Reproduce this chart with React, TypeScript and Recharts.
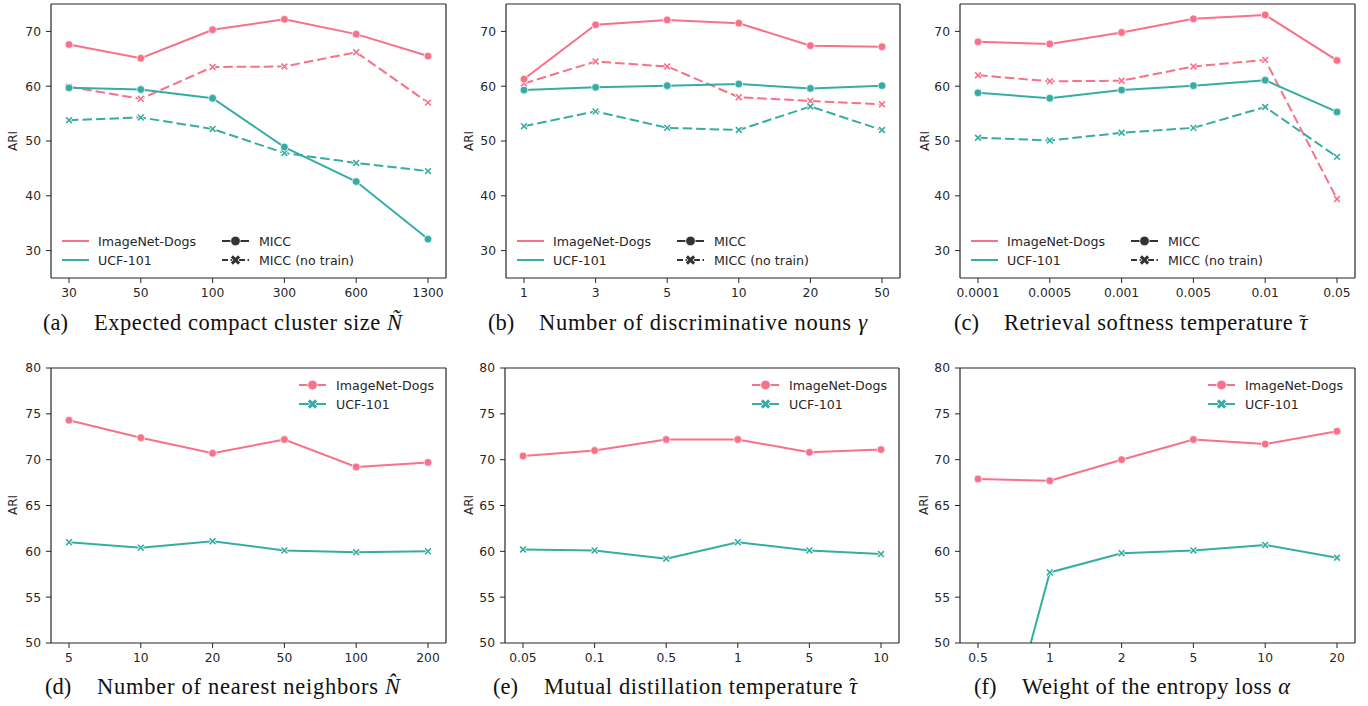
import React from 'react';
import { LineChart, Line, XAxis, YAxis, Legend } from 'recharts';

const PINK = '#f77189';
const TEAL = '#36ada4';
const DARK = '#333333';
const AXIS = '#262626';
const SANS = '"DejaVu Sans", sans-serif';
const SERIF = '"Liberation Serif", serif';

// (a) expected compact cluster size
const sizeTicks = ['30', '50', '100', '300', '600', '1300'];
const sizeDogs = [67.6, 65.1, 70.3, 72.2, 69.5, 65.5];
const sizeDogsNoTrain = [59.9, 57.7, 63.5, 63.6, 66.2, 57.0];
const sizeUcf = [59.7, 59.4, 57.8, 48.9, 42.6, 32.1];
const sizeUcfNoTrain = [53.8, 54.3, 52.2, 47.8, 46.0, 44.5];

// (b) number of discriminative nouns
const nounTicks = ['1', '3', '5', '10', '20', '50'];
const nounDogs = [61.3, 71.2, 72.1, 71.5, 67.4, 67.2];
const nounDogsNoTrain = [60.5, 64.5, 63.6, 58.0, 57.3, 56.7];
const nounUcf = [59.3, 59.8, 60.1, 60.4, 59.6, 60.1];
const nounUcfNoTrain = [52.7, 55.4, 52.4, 52.0, 56.3, 52.0];

// (c) retrieval softness temperature
const softTicks = ['0.0001', '0.0005', '0.001', '0.005', '0.01', '0.05'];
const softDogs = [68.1, 67.7, 69.8, 72.3, 73.0, 64.7];
const softDogsNoTrain = [62.0, 60.9, 61.0, 63.6, 64.8, 39.4];
const softUcf = [58.8, 57.8, 59.3, 60.1, 61.1, 55.3];
const softUcfNoTrain = [50.6, 50.1, 51.5, 52.4, 56.2, 47.1];

// (d) number of nearest neighbors
const nnTicks = ['5', '10', '20', '50', '100', '200'];
const nnDogs = [74.3, 72.4, 70.7, 72.2, 69.2, 69.7];
const nnUcf = [61.0, 60.4, 61.1, 60.1, 59.9, 60.0];

// (e) mutual distillation temperature
const distTicks = ['0.05', '0.1', '0.5', '1', '5', '10'];
const distDogs = [70.4, 71.0, 72.2, 72.2, 70.8, 71.1];
const distUcf = [60.2, 60.1, 59.2, 61.0, 60.1, 59.7];

// (f) weight of the entropy loss
const entTicks = ['0.5', '1', '2', '5', '10', '20'];
const entDogs = [67.9, 67.7, 70.0, 72.2, 71.7, 73.1];
const entUcf = [28.7, 57.7, 59.8, 60.1, 60.7, 59.3];

const topTicks = [30, 40, 50, 60, 70];
const bottomTicks = [50, 55, 60, 65, 70, 75, 80];

type Marker = 'o' | 'x';
interface SeriesDef { key: string; values: number[]; color: string; dashed?: boolean; marker: Marker }

const crossPath = (cx: number, cy: number, s: number) =>
  `M${cx - s},${cy - s}L${cx + s},${cy + s}M${cx - s},${cy + s}L${cx + s},${cy - s}`;

const makeDot = (color: string, marker: Marker) => (p: any) => {
  if (p.cx == null || p.cy == null) return <g key={p.index} />;
  if (marker === 'o') {
    return <circle key={p.index} cx={p.cx} cy={p.cy} r={3.9} fill={color} stroke="#fff" strokeWidth={0.7} />;
  }
  return (
    <g key={p.index}>
      <path d={crossPath(p.cx, p.cy, 2.9)} stroke="#fff" strokeWidth={3} />
      <path d={crossPath(p.cx, p.cy, 2.9)} stroke={color} strokeWidth={1.6} />
    </g>
  );
};

const LegendMark = ({ x, y, color, marker, dashed }: any) => (
  <g>
    <line x1={x} x2={x + 27} y1={y} y2={y} stroke={color} strokeWidth={2} strokeDasharray={dashed ? '6 2.5' : undefined} />
    {marker === 'o' && <circle cx={x + 13.5} cy={y} r={4.8} fill={color} stroke="#fff" strokeWidth={0.7} />}
    {marker === 'x' && (
      <g>
        <path d={crossPath(x + 13.5, y, 3.6)} stroke="#fff" strokeWidth={4.2} />
        <path d={crossPath(x + 13.5, y, 3.6)} stroke={color} strokeWidth={3} />
      </g>
    )}
  </g>
);

const legendText = { fontFamily: SANS, fontSize: 12.6, fill: AXIS };

const TopLegend = () => (
  <svg width={320} height={40}>
    <line x1={0} x2={27} y1={9} y2={9} stroke={PINK} strokeWidth={2} />
    <text x={36} y={13.5} {...legendText}>ImageNet-Dogs</text>
    <line x1={0} x2={27} y1={28} y2={28} stroke={TEAL} strokeWidth={2} />
    <text x={36} y={32.5} {...legendText}>UCF-101</text>
    <LegendMark x={160} y={9} color={DARK} marker="o" />
    <text x={197} y={13.5} {...legendText}>MICC</text>
    <LegendMark x={160} y={28} color={DARK} marker="x" dashed />
    <text x={197} y={32.5} {...legendText}>MICC (no train)</text>
  </svg>
);

const BottomLegend = () => (
  <svg width={150} height={40}>
    <LegendMark x={0} y={9} color={PINK} marker="o" />
    <text x={37} y={13.5} {...legendText}>ImageNet-Dogs</text>
    <LegendMark x={0} y={28} color={TEAL} marker="x" />
    <text x={37} y={32.5} {...legendText}>UCF-101</text>
  </svg>
);

interface PanelProps {
  ticks: string[];
  series: SeriesDef[];
  plotLeft: number;
  plotTop: number;
  plotW: number;
  plotH: number;
  domain: [number, number];
  yTicks: number[];
  bottom: boolean;
}

const Panel = ({ ticks, series, plotLeft, plotTop, plotW, plotH, domain, yTicks, bottom }: PanelProps) => {
  const rows = ticks.map((x, i) => {
    const r: Record<string, string | number> = { x };
    series.forEach(s => { r[s.key] = s.values[i]; });
    return r;
  });
  const offTop = 10;
  const w = 51 + plotW + 2;
  const h = offTop + plotH + 30;
  const tickStyle = { fontSize: 12.3, fill: AXIS, fontFamily: SANS };
  const frame = { stroke: AXIS, strokeWidth: 1.2 };
  return (
    <div style={{ position: 'absolute', left: plotLeft - 51, top: plotTop - offTop }}>
      <LineChart width={w} height={h} data={rows} margin={{ top: offTop - 1, right: 1, bottom: 0, left: 0 }}>
        <XAxis dataKey="x" type="category" interval={0} padding={{ left: 18, right: 18 }} height={30}
          tickSize={5} tickMargin={5} tick={tickStyle} axisLine={frame} tickLine={{ stroke: AXIS }} />
        <XAxis xAxisId="top" orientation="top" dataKey="x" height={1} tick={false} tickLine={false} axisLine={frame} />
        <YAxis domain={domain} ticks={yTicks} allowDataOverflow width={51} tickSize={5} tickMargin={5}
          tick={tickStyle} axisLine={frame} tickLine={{ stroke: AXIS }} />
        <YAxis yAxisId="right" orientation="right" width={1} tick={false} tickLine={false} axisLine={frame} />
        {series.map(s => (
          <Line key={s.key} dataKey={s.key} stroke={s.color} strokeWidth={2}
            strokeDasharray={s.dashed ? '9.5 4' : undefined} dot={makeDot(s.color, s.marker)}
            activeDot={false} isAnimationActive={false} />
        ))}
        <Legend verticalAlign="middle" align="center" layout="horizontal"
          content={() => (bottom ? <BottomLegend /> : <TopLegend />)}
          wrapperStyle={bottom
            ? { left: 51 + plotW - 147, top: offTop + 8, width: 150, height: 40 }
            : { left: 62, top: offTop + 228, width: 320, height: 40 }} />
      </LineChart>
    </div>
  );
};

const fourSeries = (d: number[], dn: number[], u: number[], un: number[]): SeriesDef[] => [
  { key: 'dogsNoTrain', values: dn, color: PINK, dashed: true, marker: 'x' },
  { key: 'ucfNoTrain', values: un, color: TEAL, dashed: true, marker: 'x' },
  { key: 'dogs', values: d, color: PINK, marker: 'o' },
  { key: 'ucf', values: u, color: TEAL, marker: 'o' },
];

const twoSeries = (d: number[], u: number[]): SeriesDef[] => [
  { key: 'dogs', values: d, color: PINK, marker: 'o' },
  { key: 'ucf', values: u, color: TEAL, marker: 'x' },
];

// letter with an accent placed on top of it
const Accent = ({ base, mark }: { base: string; mark: string }) => (
  <>
    <tspan fontStyle="italic">{base}</tspan>
    <tspan dx={-9} dy={-1} fontSize={20}>{mark}</tspan>
  </>
);

const captions = [
  { tag: '(a)', tx: 43, x: 94, y: 330, len: 308, body: <>Expected compact cluster size <tspan fontStyle="italic">Ñ</tspan></> },
  { tag: '(b)', tx: 488, x: 539, y: 330, len: 328, body: <>Number of discriminative nouns <tspan fontStyle="italic">γ</tspan></> },
  { tag: '(c)', tx: 954, x: 1004, y: 330, len: 304, body: <>Retrieval softness temperature <Accent base="τ" mark="˜" /></> },
  { tag: '(d)', tx: 45, x: 97, y: 694, len: 303, body: <>Number of nearest neighbors <tspan fontStyle="italic">{'N\u0302'}</tspan></> },
  { tag: '(e)', tx: 493, x: 544, y: 694, len: 314, body: <>Mutual distillation temperature <Accent base="τ" mark="ˆ" /></> },
  { tag: '(f)', tx: 974, x: 1022, y: 694, len: 268, body: <>Weight of the entropy loss <tspan fontStyle="italic">α</tspan></> },
];

const ariLabels = [
  { x: 17, y: 141 }, { x: 473, y: 141 }, { x: 929, y: 141 },
  { x: 17, y: 505 }, { x: 473, y: 505 }, { x: 928, y: 505 },
];

export default function App() {
  return (
    <div style={{ position: 'absolute', left: 0, top: 0, width: 1368, height: 706, background: '#fff' }}>
      <Panel ticks={sizeTicks} series={fourSeries(sizeDogs, sizeDogsNoTrain, sizeUcf, sizeUcfNoTrain)}
        plotLeft={51} plotTop={4} plotW={395} plotH={274} domain={[25, 75]} yTicks={topTicks} bottom={false} />
      <Panel ticks={nounTicks} series={fourSeries(nounDogs, nounDogsNoTrain, nounUcf, nounUcfNoTrain)}
        plotLeft={506} plotTop={4} plotW={394} plotH={274} domain={[25, 75]} yTicks={topTicks} bottom={false} />
      <Panel ticks={softTicks} series={fourSeries(softDogs, softDogsNoTrain, softUcf, softUcfNoTrain)}
        plotLeft={960} plotTop={4} plotW={395} plotH={274} domain={[25, 75]} yTicks={topTicks} bottom={false} />
      <Panel ticks={nnTicks} series={twoSeries(nnDogs, nnUcf)}
        plotLeft={51} plotTop={368} plotW={395} plotH={275} domain={[50, 80]} yTicks={bottomTicks} bottom />
      <Panel ticks={distTicks} series={twoSeries(distDogs, distUcf)}
        plotLeft={505} plotTop={368} plotW={394} plotH={275} domain={[50, 80]} yTicks={bottomTicks} bottom />
      <Panel ticks={entTicks} series={twoSeries(entDogs, entUcf)}
        plotLeft={960} plotTop={368} plotW={395} plotH={275} domain={[50, 80]} yTicks={bottomTicks} bottom />
      <svg width={1368} height={706} style={{ position: 'absolute', left: 0, top: 0, pointerEvents: 'none' }}>
        {ariLabels.map((a, i) => (
          <text key={i} x={a.x} y={a.y} transform={`rotate(-90 ${a.x} ${a.y})`} textAnchor="middle"
            fontFamily={SANS} fontSize={12} fill={AXIS}>ARI</text>
        ))}
        {captions.map(c => (
          <g key={c.tag} fontFamily={SERIF} fontSize={22.5} fill="#111">
            <text x={c.tx} y={c.y}>{c.tag}</text>
            <text x={c.x} y={c.y} textLength={c.len} lengthAdjust="spacing">{c.body}</text>
          </g>
        ))}
      </svg>
    </div>
  );
}
